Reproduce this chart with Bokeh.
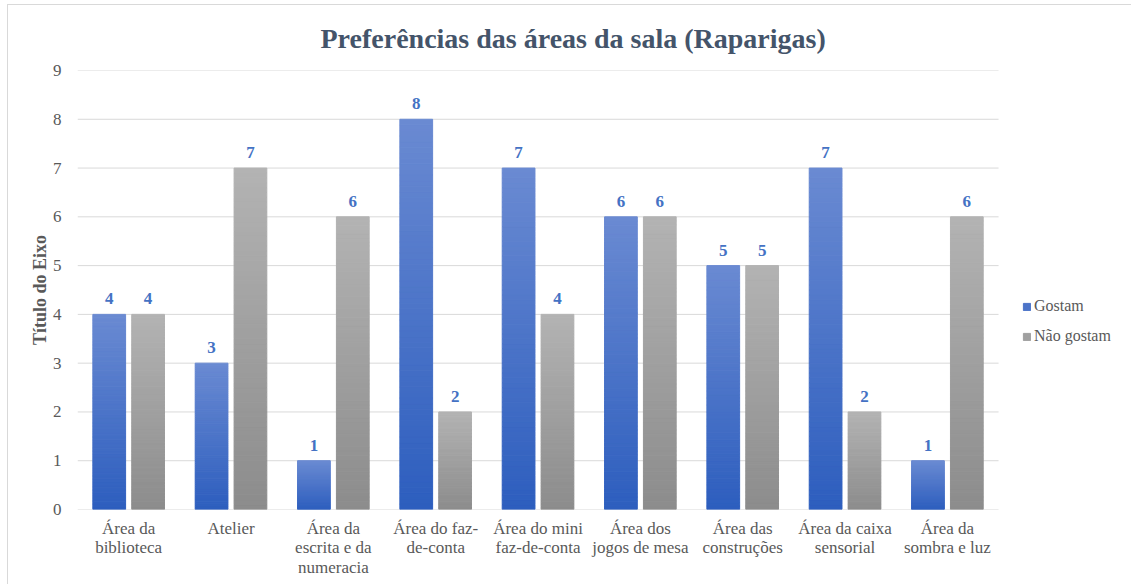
from bokeh.plotting import figure
from bokeh.models import (ColumnDataSource, Range1d, Legend, LegendItem,
                          FixedTicker)
from bokeh.core.properties import value
from bokeh.embed import file_html
from bokeh.resources import INLINE

categories = ["Área da\nbiblioteca", "Atelier", "Área da\nescrita e da\nnumeracia",
              "Área do faz-\nde-conta", "Área do mini\nfaz-de-conta", "Área dos\njogos de mesa",
              "Área das\nconstruções", "Área da caixa\nsensorial", "Área da\nsombra e luz"]
gostam = [4, 3, 1, 8, 7, 6, 5, 7, 1]
nao_gostam = [4, 7, 6, 2, 4, 6, 5, 2, 6]
series_names = ["Gostam", "Não gostam"]
y_ticks = list(range(0, 10))

FONT = "'Liberation Serif', 'Times New Roman', serif"
TXT = "#595959"
N = 70
W = 0.32
OFF = 0.19
pos = list(range(len(categories)))

def hex2rgb(h):
    h = h.lstrip("#")
    return tuple(int(h[i:i + 2], 16) for i in (0, 2, 4))

def lerp(c1, c2, t):
    a, b = hex2rgb(c1), hex2rgb(c2)
    return "#%02x%02x%02x" % tuple(round(a[i] + (b[i] - a[i]) * t) for i in range(3))

def gradient_source(vals, shift, bottom_col, top_col, n=N):
    xs, bots, tops, cols = [], [], [], []
    for x, v in zip(pos, vals):
        for i in range(n):
            xs.append(x + shift)
            bots.append(v * i / n)
            tops.append(v * (i + 1) / n)
            cols.append(lerp(bottom_col, top_col, (i + 0.5) / n))
    return ColumnDataSource(dict(x=xs, bottom=bots, top=tops, color=cols))

x_lo = -0.5
x_hi = len(categories) - 0.5
p = figure(x_range=Range1d(x_lo, x_hi + 1.26), y_range=Range1d(y_ticks[0], y_ticks[-1]),
           width=1124, height=580, output_backend="svg", toolbar_location=None,
           min_border_left=69, min_border_right=5, min_border_top=65, min_border_bottom=76)
p.outline_line_color = None
p.styles = {"margin-left": "7px", "margin-top": "4px",
            "border-left": "1px solid #d9d9d9", "border-top": "1px solid #d9d9d9",
            "box-sizing": "border-box"}

# gridlines limited to the category area
p.segment(x0=[x_lo] * len(y_ticks), x1=[x_hi] * len(y_ticks), y0=y_ticks, y1=y_ticks,
          line_color="#d9d9d9", line_width=1)

src_g = gradient_source(gostam, -OFF, "#2d5ebe", "#6a8ad2")
src_n = gradient_source(nao_gostam, OFF, "#8c8c8c", "#b3b3b3")
rg = p.vbar(x="x", bottom="bottom", top="top", width=W,
            fill_color="color", line_color="color", line_width=1, source=src_g)
rn = p.vbar(x="x", bottom="bottom", top="top", width=W,
            fill_color="color", line_color="color", line_width=1, source=src_n)

lab = ColumnDataSource(dict(xg=[x - OFF for x in pos], xn=[x + OFF for x in pos],
                            g=gostam, n=nao_gostam,
                            gt=[str(v) for v in gostam], nt=[str(v) for v in nao_gostam]))
for xc, col, txt in (("xg", "g", "gt"), ("xn", "n", "nt")):
    p.text(x=xc, y=col, text=txt, source=lab,
           text_align="center", text_baseline="bottom", y_offset=-10,
           text_font=value(FONT), text_font_style="bold", text_font_size="17px",
           text_color="#4472c4")

legend = Legend(items=[LegendItem(label=series_names[0], renderers=[rg], index=N // 2),
                       LegendItem(label=series_names[1], renderers=[rn], index=N // 2)],
                location=(945, 164), border_line_color=None, background_fill_alpha=0,
                glyph_width=9, glyph_height=9, spacing=12, label_standoff=3,
                label_text_font=FONT, label_text_font_size="16px", label_text_color=TXT,
                padding=0, margin=0)
p.add_layout(legend)

p.title.text = "Preferências das áreas da sala (Raparigas)"
p.title.text_font = FONT
p.title.text_font_size = "28px"
p.title.text_font_style = "bold"
p.title.text_color = "#44546a"
p.title.align = "left"
p.title.vertical_align = "top"
p.title.offset = 243
p.title.standoff = 30

p.xgrid.grid_line_color = None
p.ygrid.grid_line_color = None
p.yaxis.ticker = FixedTicker(ticks=y_ticks)
p.yaxis.axis_line_color = None
p.yaxis.major_tick_line_color = None
p.yaxis.minor_tick_line_color = None
p.yaxis.major_label_text_font = FONT
p.yaxis.major_label_text_font_size = "17px"
p.yaxis.major_label_text_color = TXT
p.yaxis.major_label_standoff = 10
p.yaxis.axis_label = "Título do Eixo"
p.yaxis.axis_label_text_font = FONT
p.yaxis.axis_label_text_font_size = "18px"
p.yaxis.axis_label_text_font_style = "bold"
p.yaxis.axis_label_text_color = TXT
p.yaxis.axis_label_standoff = 0

p.xaxis.ticker = FixedTicker(ticks=pos)
p.xaxis.major_label_overrides = {i: c for i, c in zip(pos, categories)}
p.xaxis.axis_line_color = None
p.xaxis.major_tick_line_color = None
p.xaxis.minor_tick_line_color = None
p.xaxis.major_label_text_font = FONT
p.xaxis.major_label_text_font_size = "17px"
p.xaxis.major_label_text_color = TXT
p.xaxis.major_label_text_line_height = 1.05
p.xaxis.major_label_standoff = 3

open("out.html", "w").write(file_html(p, INLINE))
